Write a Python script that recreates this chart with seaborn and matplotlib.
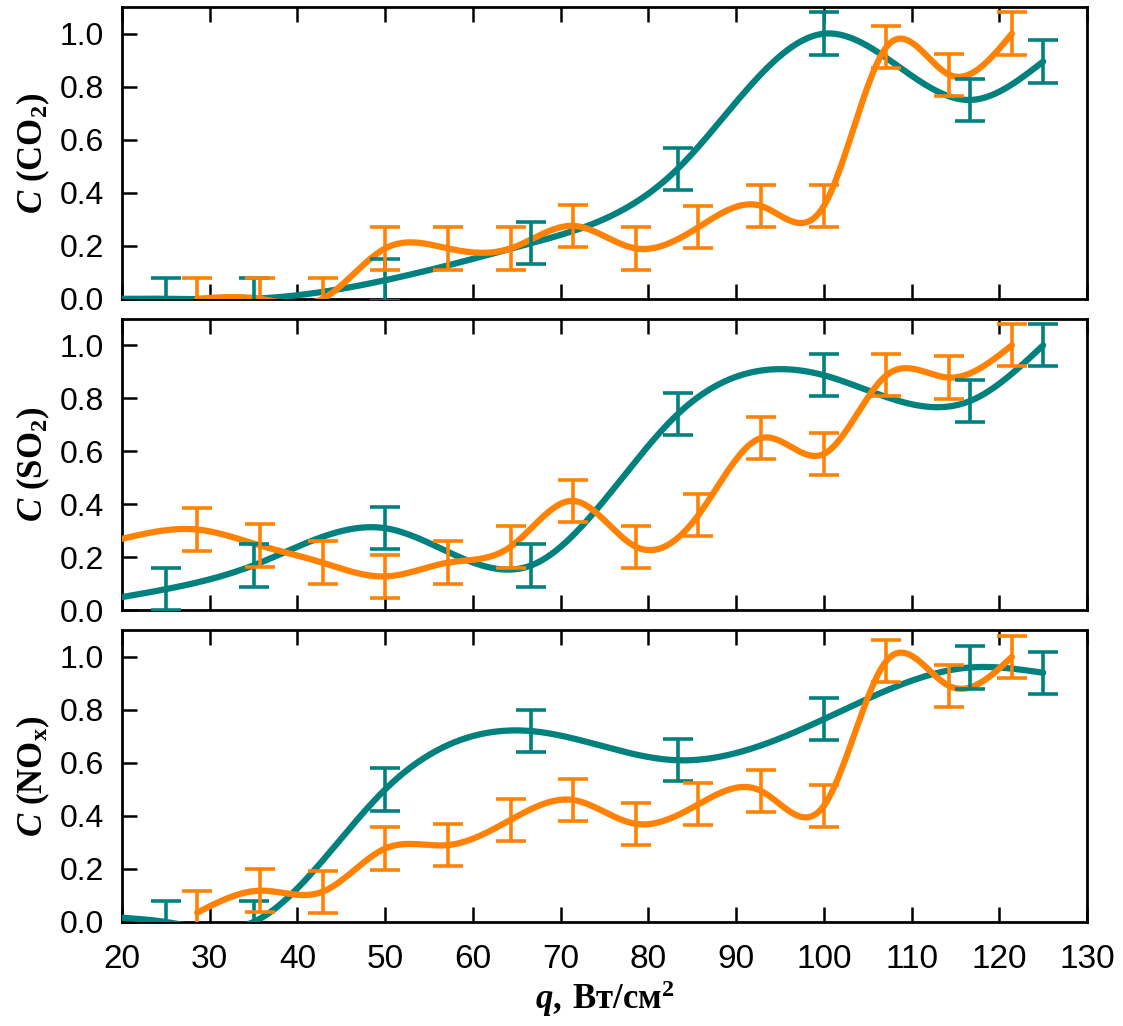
import numpy as np
import seaborn as sns
import matplotlib.pyplot as plt

# heat flux, W/cm2
x_teal = [20, 25, 35, 50, 66.67, 83.33, 100, 116.67, 125]
x_orange = [28.57, 35.71, 42.86, 50, 57.14, 64.29, 71.43, 78.57,
            85.71, 92.86, 100, 107.14, 114.29, 121.43]

co2_teal = [0.0, 0.0, 0.0, 0.07, 0.21, 0.49, 1.0, 0.75, 0.895]
co2_orange = [0.0, 0.0, 0.0, 0.19, 0.19, 0.19, 0.275, 0.19, 0.27, 0.35, 0.35, 0.95, 0.845, 1.0]

so2_teal = [0.05, 0.08, 0.17, 0.31, 0.17, 0.74, 0.887, 0.79, 1.0]
so2_orange_start = 0.27  # curve value at q = 20
so2_orange = [0.305, 0.245, 0.18, 0.128, 0.18, 0.24, 0.413, 0.24, 0.36, 0.65, 0.59, 0.887, 0.878, 1.0]

nox_teal = [0.016, 0.0, 0.0, 0.50, 0.72, 0.61, 0.765, 0.96, 0.94]
nox_orange = [0.035, 0.118, 0.114, 0.277, 0.29, 0.385, 0.46, 0.37, 0.444, 0.494, 0.438, 0.985, 0.89, 1.0]

err = 0.08
ylabels = [r'$C\ \mathrm{(CO_2)}$', r'$C\ \mathrm{(SO_2)}$', r'$C\ \mathrm{(NO_x)}$']

TEAL = '#00817E'
ORANGE = '#FF8205'


def spline(x, y, xs):
    # natural cubic spline, like the "spline" connect option in Origin
    x = np.asarray(x, float)
    y = np.asarray(y, float)
    n = len(x)
    h = np.diff(x)
    A = np.zeros((n, n))
    b = np.zeros(n)
    A[0, 0] = A[-1, -1] = 1
    for i in range(1, n - 1):
        A[i, i - 1] = h[i - 1]
        A[i, i] = 2 * (h[i - 1] + h[i])
        A[i, i + 1] = h[i]
        b[i] = 3 * ((y[i + 1] - y[i]) / h[i] - (y[i] - y[i - 1]) / h[i - 1])
    c = np.linalg.solve(A, b)
    bb = (y[1:] - y[:-1]) / h - h * (2 * c[:-1] + c[1:]) / 3
    d = (c[1:] - c[:-1]) / (3 * h)
    k = np.clip(np.searchsorted(x, xs) - 1, 0, n - 2)
    dx = xs - x[k]
    return y[k] + bb[k] * dx + c[k] * dx ** 2 + d[k] * dx ** 3


sns.set_style('ticks')
plt.rcParams['font.family'] = ['Liberation Sans', 'DejaVu Sans']
plt.rcParams['mathtext.fontset'] = 'custom'
plt.rcParams['mathtext.rm'] = 'Liberation Serif:bold'
plt.rcParams['mathtext.bf'] = 'Liberation Serif:bold'
plt.rcParams['mathtext.it'] = 'Liberation Serif:italic:bold'
plt.rcParams['text.color'] = 'black'
plt.rcParams['axes.labelcolor'] = 'black'

fig, axes = plt.subplots(3, 1, figsize=(11.23, 10.26), dpi=100, sharex=True)
fig.subplots_adjust(left=0.1086, right=0.968, bottom=0.1014, top=0.993, hspace=0.0685)

panels = [
    (x_teal, co2_teal, x_orange, co2_orange),
    (x_teal, so2_teal, [20] + x_orange, [so2_orange_start] + so2_orange),
    (x_teal, nox_teal, x_orange, nox_orange),
]

for ax, (xt, yt, xo, yo), lab in zip(axes, panels, ylabels):
    for xx, yy, col in [(xt, yt, TEAL), (xo, yo, ORANGE)]:
        xs = np.linspace(xx[0], xx[-1], 600)
        sns.lineplot(x=xs, y=spline(xx, yy, xs), ax=ax, color=col, linewidth=4.5,
                     solid_capstyle='round', zorder=3)
    # error bars (the start point at q = 20 has none)
    ax.errorbar(xt[1:], yt[1:], yerr=err, fmt='none', ecolor=TEAL,
                elinewidth=2.6, capsize=11, capthick=2.6, zorder=4)
    ax.errorbar(x_orange, yo[-len(x_orange):], yerr=err, fmt='none', ecolor=ORANGE,
                elinewidth=2.6, capsize=11, capthick=2.6, zorder=4)

    ax.set_xlim(20, 130)
    ax.set_ylim(0, 1.1)
    ax.set_yticks([0, 0.2, 0.4, 0.6, 0.8, 1.0])
    ax.set_yticklabels(['0.0', '0.2', '0.4', '0.6', '0.8', '1.0'])
    ax.set_xticks(range(20, 131, 10))
    ax.tick_params(axis='x', direction='in', top=True, bottom=True, length=11, width=1.8,
                   labelsize=24, pad=16, colors='black')
    ax.tick_params(axis='y', direction='in', left=True, right=False, length=11, width=1.8,
                   labelsize=23, pad=13, colors='black')
    for s in ax.spines.values():
        s.set_linewidth(2)
        s.set_color('black')
        s.set_visible(True)
    ax.set_ylabel(lab, fontsize=25)
    ax.yaxis.set_label_coords(-0.073, 0.5)

axes[-1].set_xlabel(r'$q\mathrm{,\:Вт/см^2}$', fontsize=25, labelpad=2)

fig.savefig('out.png', dpi=100)
